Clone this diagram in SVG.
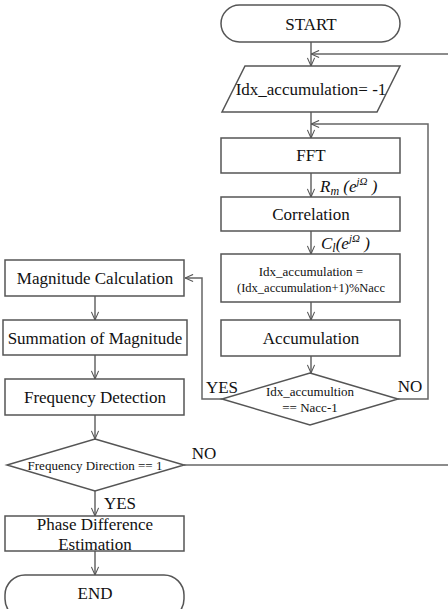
<svg xmlns="http://www.w3.org/2000/svg" width="448" height="609" viewBox="0 0 448 609">
<defs>
<marker id="arr" viewBox="0 0 10 10" refX="10" refY="5" markerWidth="9" markerHeight="9" markerUnits="userSpaceOnUse" orient="auto">
<path d="M1,1 L10,5 L1,9" fill="none" stroke="#555" stroke-width="1.2"/>
</marker>
<style>
.box{fill:#fff;stroke:#555;stroke-width:1.5}
.ln{fill:none;stroke:#666;stroke-width:1.5}
.t{font-family:"Liberation Serif","Times New Roman",serif;fill:#111;text-anchor:middle;dominant-baseline:central}
.m{font-family:"Liberation Serif","Times New Roman",serif;font-style:italic;fill:#111;font-size:17px}
</style>
</defs>
<rect width="448" height="609" fill="#fff"/>
<g id="connectors">
<line class="ln" x1="311" y1="42" x2="311" y2="66" marker-end="url(#arr)"/>
<polyline class="ln" points="448,54 311,54" marker-end="url(#arr)"/>
<line class="ln" x1="311" y1="112" x2="311" y2="138" marker-end="url(#arr)"/>
<polyline class="ln" points="398,399 428,399 428,124 311,124" marker-end="url(#arr)"/>
<line class="ln" x1="311" y1="173" x2="311" y2="197" marker-end="url(#arr)"/>
<line class="ln" x1="311" y1="231" x2="311" y2="254" marker-end="url(#arr)"/>
<line class="ln" x1="311" y1="302" x2="311" y2="320" marker-end="url(#arr)"/>
<line class="ln" x1="311" y1="356" x2="311" y2="373" marker-end="url(#arr)"/>
<polyline class="ln" points="222,399 202,399 202,278 185,278" marker-end="url(#arr)"/>
<line class="ln" x1="95" y1="296" x2="95" y2="320" marker-end="url(#arr)"/>
<line class="ln" x1="95" y1="355" x2="95" y2="379" marker-end="url(#arr)"/>
<line class="ln" x1="95" y1="415" x2="95" y2="439" marker-end="url(#arr)"/>
<line class="ln" x1="184" y1="465" x2="448" y2="465"/>
<line class="ln" x1="95" y1="491" x2="95" y2="516" marker-end="url(#arr)"/>
<line class="ln" x1="95" y1="551" x2="95" y2="575" marker-end="url(#arr)"/>
<text class="m" x="320" y="192">R<tspan font-size="12" dy="3">m</tspan><tspan dy="-3"> (e</tspan><tspan font-size="11" dy="-7">jΩ</tspan><tspan dy="7"> )</tspan></text>
<text class="m" x="321" y="249">C<tspan font-size="12" dy="3">l</tspan><tspan dy="-3">(e</tspan><tspan font-size="11" dy="-7">jΩ</tspan><tspan dy="7"> )</tspan></text>
<text class="t" x="222" y="387" font-size="17">YES</text>
<text class="t" x="410" y="386" font-size="17">NO</text>
<text class="t" x="204" y="453" font-size="17">NO</text>
<text class="t" x="120" y="503" font-size="17">YES</text>
</g>
<g id="start">
<rect class="box" x="221" y="5" width="179" height="37" rx="18.5"/>
<text class="t" x="311" y="24" font-size="17">START</text>
</g>
<g id="init">
<polygon class="box" points="245,66 400,66 377,112 222,112"/>
<text class="t" x="311" y="89" font-size="17">Idx_accumulation= -1</text>
</g>
<g id="fft">
<rect class="box" x="221" y="138" width="179" height="35"/>
<text class="t" x="311" y="155.5" font-size="17">FFT</text>
</g>
<g id="correlation">
<rect class="box" x="221" y="197" width="179" height="34"/>
<text class="t" x="311" y="214" font-size="17">Correlation</text>
</g>
<g id="idxupdate">
<rect class="box" x="221" y="254" width="179" height="48"/>
<text class="t" x="311" y="271" font-size="13">Idx_accumulation =</text>
<text class="t" x="311" y="288" font-size="12.5">(Idx_accumulation+1)%Nacc</text>
</g>
<g id="accumulation">
<rect class="box" x="221" y="320" width="179" height="36"/>
<text class="t" x="311" y="338" font-size="17">Accumulation</text>
</g>
<g id="check">
<polygon class="box" points="310,373 398,399 310,425 222,399"/>
<text class="t" x="310" y="391" font-size="13">Idx_accumultion</text>
<text class="t" x="310" y="407" font-size="13">== Nacc-1</text>
</g>
<g id="magcalc">
<rect class="box" x="5" y="260" width="179" height="36"/>
<text class="t" x="95" y="278" font-size="17">Magnitude Calculation</text>
</g>
<g id="summation">
<rect class="box" x="3" y="320" width="184" height="35"/>
<text class="t" x="95" y="338" font-size="17">Summation of Magnitude</text>
</g>
<g id="freqdet">
<rect class="box" x="5" y="379" width="179" height="36"/>
<text class="t" x="95" y="397" font-size="17">Frequency Detection</text>
</g>
<g id="freqdir">
<polygon class="box" points="95,439 184,465 95,491 7,465"/>
<text class="t" x="95" y="465" font-size="13">Frequency Direction == 1</text>
</g>
<g id="phase">
<rect class="box" x="5" y="516" width="179" height="35"/>
<text class="t" x="95" y="524" font-size="17">Phase Difference</text>
<text class="t" x="95" y="544" font-size="17">Estimation</text>
</g>
<g id="end">
<rect class="box" x="5" y="575" width="179" height="44" rx="20"/>
<text class="t" x="95" y="593" font-size="17">END</text>
</g>
</svg>
